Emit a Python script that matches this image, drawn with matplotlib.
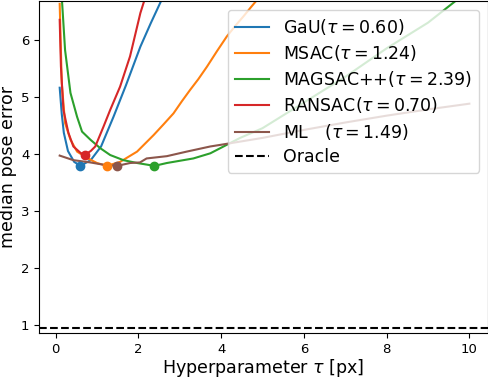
import matplotlib
matplotlib.use("Agg")
import matplotlib.pyplot as plt

# tau grid + median pose error for each method
gau_tau = [0.1, 0.15, 0.2, 0.3, 0.45, 0.6, 0.85, 1.1, 1.4, 1.7, 2.05, 2.3, 2.55, 2.7]
gau_err = [5.16, 4.7, 4.37, 4.05, 3.86, 3.79, 3.89, 4.13, 4.65, 5.2, 5.88, 6.29, 6.68, 6.95]

msac_tau = [0.1, 0.15, 0.23, 0.36, 0.52, 0.76, 1.0, 1.24, 1.56, 1.97, 2.37, 2.6, 2.85, 3.05, 3.25, 3.45, 3.66, 3.9, 4.14, 4.35, 4.54, 4.72, 4.87, 5.1]
msac_err = [6.63, 5.24, 4.54, 4.25, 4.04, 3.93, 3.84, 3.79, 3.86, 4.04, 4.33, 4.51, 4.71, 4.92, 5.12, 5.31, 5.53, 5.8, 6.06, 6.25, 6.41, 6.57, 6.7, 6.95]

magsac_tau = [0.15, 0.23, 0.36, 0.52, 0.64, 0.84, 1.08, 1.32, 1.64, 1.97, 2.39, 2.69, 3.33, 3.74, 4.06, 4.46, 5.0, 6.0, 7.0, 8.0, 9.0, 9.7, 10.0]
magsac_err = [6.75, 5.82, 5.07, 4.65, 4.39, 4.25, 4.10, 3.98, 3.89, 3.84, 3.79, 3.84, 3.92, 4.01, 4.13, 4.28, 4.45, 4.9, 5.35, 5.85, 6.3, 6.7, 6.9]

ransac_tau = [0.1, 0.13, 0.19, 0.31, 0.43, 0.6, 0.7, 0.85, 0.96, 1.16, 1.32, 1.56, 1.8, 2.05, 2.15, 2.3]
ransac_err = [6.35, 5.53, 4.77, 4.37, 4.13, 4.02, 3.98, 4.05, 4.13, 4.48, 4.77, 5.18, 5.71, 6.47, 6.7, 6.95]

ml_tau = [0.1, 0.43, 0.84, 1.16, 1.49, 1.8, 2.04, 2.2, 2.69, 3.17, 3.74, 4.0, 5.0, 6.0, 7.0, 8.0, 9.0, 10.0]
ml_err = [3.97, 3.89, 3.85, 3.81, 3.79, 3.84, 3.85, 3.92, 3.96, 4.04, 4.13, 4.16, 4.28, 4.42, 4.55, 4.67, 4.78, 4.88]

best_tau = [0.60, 1.24, 2.39, 0.70, 1.49]
best_err = [3.79, 3.79, 3.79, 3.98, 3.79]
oracle = 0.95

fig = plt.figure(figsize=(4.89, 3.79), dpi=100)
ax = fig.add_axes([39 / 489, 46 / 379, 449 / 489, 332 / 379])

colors = ['tab:blue', 'tab:orange', 'tab:green', 'tab:red', 'tab:brown']
labels = [r'GaU$(\tau=0.60)$', r'MSAC$(\tau=1.24)$', r'MAGSAC++$(\tau=2.39)$',
          r'RANSAC$(\tau=0.70)$', r'ML   $(\tau=1.49)$']
taus = [gau_tau, msac_tau, magsac_tau, ransac_tau, ml_tau]
errs = [gau_err, msac_err, magsac_err, ransac_err, ml_err]

for t, e, c, l in zip(taus, errs, colors, labels):
    ax.plot(t, e, color=c, label=l, lw=1.5)
for t, e, c in zip(best_tau, best_err, colors):
    ax.plot(t, e, 'o', color=c, ms=6)

ax.axhline(oracle, color='k', ls='--', lw=1.5, label='Oracle')

ax.set_xlim(-0.4, 10.45)
ax.set_ylim(0.86, 6.68)
ax.set_xticks([0, 2, 4, 6, 8, 10])
ax.tick_params(labelsize=9.5)
ax.set_xlabel(r'Hyperparameter $\tau$ [px]', fontsize=12.6, labelpad=1)
ax.set_ylabel('median pose error', fontsize=12.6, labelpad=3)
ax.legend(loc='upper right', fontsize=12.5, labelspacing=0.36)

fig.savefig('out.png', dpi=100)
